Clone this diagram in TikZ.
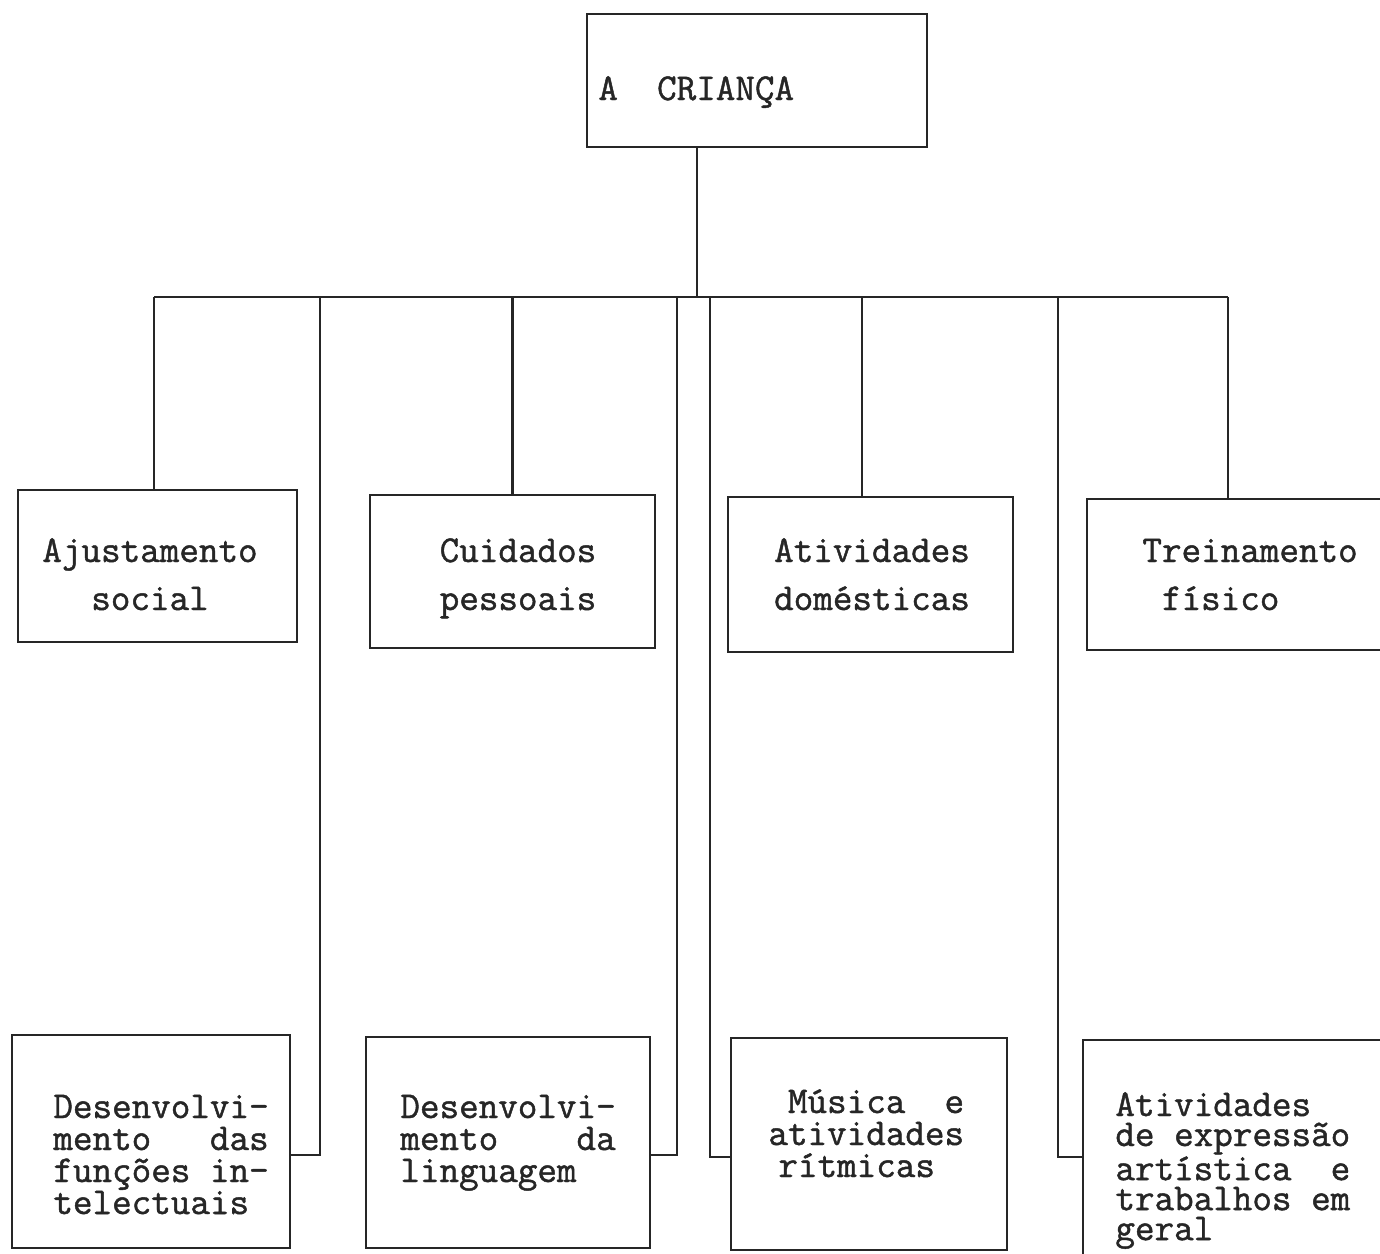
\documentclass[tikz,border=0pt]{standalone}
\usepackage{fontspec}
\setmonofont[FakeBold=1.2]{Latin Modern Mono}
\usepackage{tikz}

\definecolor{ink}{gray}{0.15}
\newcommand*{\tsp}{\hphantom{x}}

\begin{document}
\begin{tikzpicture}[x=0.5pt,y=-0.5pt,
		box/.style={draw=ink, line width=1.2pt, inner sep=0pt},
		link/.style={draw=ink, line width=1.2pt},
		lbl/.style={text=ink, inner sep=0pt, anchor=base, align=center, text width=130pt,
			font=\ttfamily\fontsize{19}{24}\selectfont},
		note/.style={text=ink, inner sep=0pt, anchor=base west, align=left, text width=165pt,
			font=\ttfamily\fontsize{19}{16}\selectfont}]
			\useasboundingbox (0,0) rectangle (1380,1253);
			\fill[white] (0,0) rectangle (1380,1253);

			% boxes
			\node[box, minimum width=170pt, minimum height=66.5pt] (crianca) at (757,80.5) {};
			\node[box, minimum width=139.5pt, minimum height=76pt] (aju) at (157.5,566) {};
			\node[box, minimum width=142.5pt, minimum height=76.5pt] (cui) at (512.5,571.5) {};
			\node[box, minimum width=142.5pt, minimum height=77.5pt] (dom) at (870.5,574.5) {};
			\node[box, minimum width=165pt, minimum height=75.5pt] (fis) at (1252,574.5) {};
			\node[box, minimum width=139pt, minimum height=106.5pt] (dev) at (151,1141.5) {};
			\node[box, minimum width=142pt, minimum height=105.5pt] (lin) at (508,1142.5) {};
			\node[box, minimum width=138pt, minimum height=106pt] (mus) at (869,1144) {};
			\node[box, minimum width=168.5pt, minimum height=112.5pt] (art) at (1251.5,1152.5) {};

			% texts
			\node[text=ink, inner sep=0pt, anchor=base west, font=\ttfamily\fontsize{19}{24}\selectfont]
				(tcrianca) at (598,100) {A\tsp\tsp CRIANÇA};
			\node[lbl] (taju) at (150,562) {Ajustamento\\social};
			\node[lbl] (tcui) at (518,562) {Cuidados\\pessoais};
			\node[lbl] (tdom) at (872,562) {Atividades\\domésticas};
			\node[lbl, anchor=base west, align=left] (tfis) at (1142,562) {Treinamento\\\tsp físico};
			\node[note] (tdev) at (53,1118) {Desenvolvi-\\mento\tsp\tsp\tsp das\\funções\tsp in-\\telectuais};
			\node[note] (tlin) at (400,1118) {Desenvolvi-\\mento\tsp\tsp\tsp\tsp da\\linguagem};
			\node[note] (tmus) at (768,1113) {\tsp Música\tsp\tsp e\\atividades\\\hspace*{5pt}rítmicas};
			\node[note, font=\ttfamily\fontsize{19}{15}\selectfont] (tart) at (1115,1116)
				{Atividades\\de\tsp expressão\\artística\tsp\tsp e\\trabalhos\tsp em\\geral};

			% bus
			\coordinate (hub) at (697,297);
			\coordinate (busL) at (154,297);
			\coordinate (busR) at (1228,297);
			\coordinate (j1) at (320,297);
			\coordinate (j2) at (677,297);
			\coordinate (j3) at (710,297);
			\coordinate (j4) at (1058,297);

			\draw[link] (crianca.south -| hub) -- (hub);
			\draw[link] (busL) -- (busR);

			\draw[link] (busL) -- (aju.north -| busL);
			\draw[link] (cui.north |- hub) -- (cui.north);
			\draw[link] ([xshift=-4.25pt]dom.north |- hub) -- ([xshift=-4.25pt]dom.north);
			\draw[link] (busR) -- (fis.north -| busR);

			\draw[link] (j1) |- ([yshift=-6.75pt]dev.east);
			\draw[link] (j2) |- ([yshift=-6.25pt]lin.east);
			\draw[link] (j3) |- ([yshift=-6.5pt]mus.west);
			\draw[link] (j4) |- ([yshift=-2.25pt]art.west);
		\end{tikzpicture}
\end{document}
